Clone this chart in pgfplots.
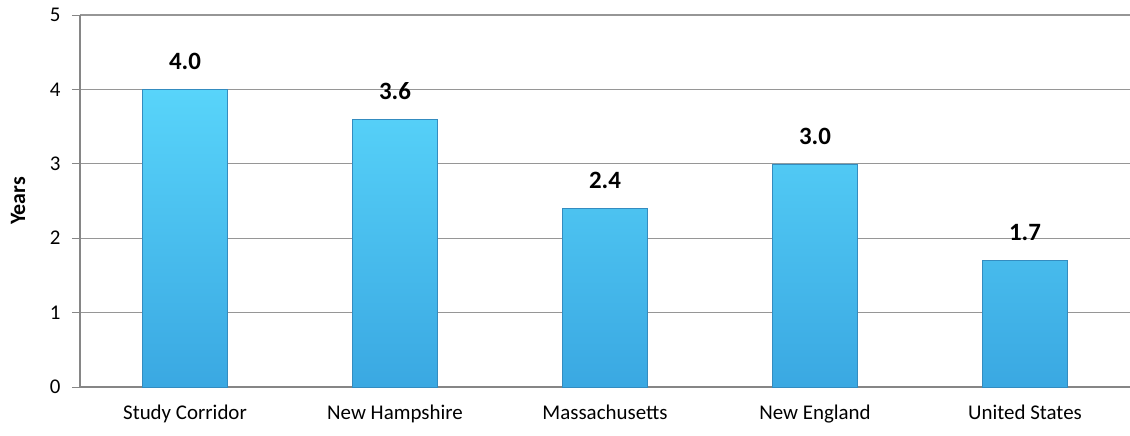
\documentclass[border=0pt]{standalone}
\usepackage{pgfplots}
\pgfplotsset{compat=1.18}
\usepackage{fontspec}
\setmainfont{Carlito}
\definecolor{gridgray}{RGB}{150,150,150}
\definecolor{axisgray}{RGB}{134,134,134}
\definecolor{bartop}{RGB}{88,212,250}
\definecolor{barbot}{RGB}{58,168,226}
\definecolor{baredge}{RGB}{52,140,192}
\begin{document}
\begin{tikzpicture}[x=1bp,y=1bp]
\begin{axis}[
  scale only axis,
  width=1050bp, height=372bp,
  at={(0,0)}, anchor=south west,
  xmin=-0.5, xmax=4.5,
  ymin=0, ymax=5,
  ytick={0,1,2,3,4,5},
  xtick={0,1,2,3,4},
  xticklabels={Study Corridor,New Hampshire,Massachusetts,New England,United States},
  extra x ticks={0.5,1.5,2.5,3.5},
  extra x tick labels={},
  extra x tick style={major tick length=8bp, tick style={axisgray, line width=1pt}, grid=none},
  x tick style={draw=none},
  y tick style={axisgray, line width=1pt},
  major tick length=8bp,
  tick align=outside,
  ymajorgrids,
  grid style={gridgray, line width=1.4pt},
  axis x line*=bottom,
  axis y line*=left,
  axis line style={axisgray, line width=1.4pt},
  /pgf/number format/assume math mode=true,
  tick label style={font=\fontsize{21}{24}\selectfont, text=black},
  yticklabel style={xshift=-8bp},
  xticklabel style={yshift=-6bp},
  ylabel={\bfseries Years},
  ylabel style={font=\fontsize{22}{26}\selectfont, at={(axis description cs:0,0.5)}, anchor=center, yshift=62bp},
  ybar,
  bar width=85bp,
  nodes near coords,
  nodes near coords style={font=\bfseries\fontsize{25}{30}\selectfont, text=black, yshift=16bp},
  point meta=explicit symbolic,
  clip=false,
]
\addplot[
  draw=baredge, line width=0.6pt,
  top color=bartop, bottom color=barbot,
] coordinates {
  (0,4.0) [4.0]
  (1,3.6) [3.6]
  (2,2.4) [2.4]
  (3,3.0) [3.0]
  (4,1.7) [1.7]
};
\end{axis}
\pgfresetboundingbox
\path (-80bp,-49bp) rectangle (1050bp,387bp);
\end{tikzpicture}
\end{document}
